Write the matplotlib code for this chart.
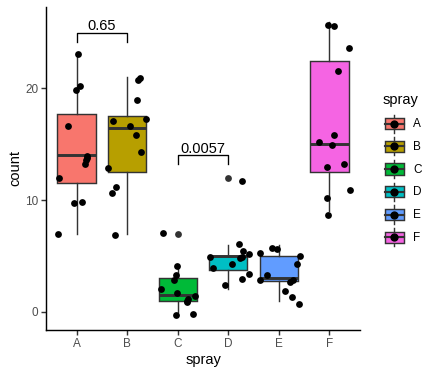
import matplotlib
matplotlib.use("Agg")
import matplotlib.pyplot as plt
from matplotlib.legend_handler import HandlerBase
from matplotlib.patches import Rectangle
from matplotlib.lines import Line2D

plt.rcParams['font.family'] = ['Liberation Sans', 'DejaVu Sans']

# InsectSprays counts (box statistics)
sprays = ['A', 'B', 'C', 'D', 'E', 'F']
counts = {
    'A': [10, 7, 20, 14, 14, 12, 10, 23, 17, 20, 14, 13],
    'B': [11, 17, 21, 11, 16, 14, 17, 17, 19, 21, 7, 13],
    'C': [0, 1, 7, 2, 3, 1, 2, 1, 3, 0, 1, 4],
    'D': [3, 5, 12, 6, 4, 3, 5, 5, 5, 5, 2, 4],
    'E': [3, 5, 3, 5, 3, 6, 1, 1, 3, 2, 6, 4],
    'F': [11, 9, 15, 22, 15, 16, 13, 10, 26, 26, 24, 13],
}
colors = ['#F8766D', '#B79F00', '#00BA38', '#00BFC4', '#619CFF', '#F564E3']

# jittered points as they appear (x position, count)
jit_x = {
    'A': [0.636, 1.020, 0.992, 1.071, 0.822, 1.204, 1.190, 1.170, 1.196, 0.656, 0.952, 1.099],
    'B': [2.247, 2.223, 2.200, 1.713, 2.378, 2.061, 2.180, 2.279, 1.625, 1.784, 1.705, 1.764],
    'C': [2.714, 2.991, 2.971, 2.932, 2.663, 2.991, 3.348, 3.197, 3.177, 2.971, 3.308, 3.190],
    'D': [4.278, 4.212, 4.297, 4.416, 3.644, 4.226, 4.266, 4.080, 3.704, 4.416, 4.278, 3.942],
    'E': [4.872, 4.971, 4.634, 5.426, 5.367, 4.773, 4.634, 5.287, 5.228, 5.129, 5.268, 5.406],
    'F': [5.980, 6.099, 6.396, 6.178, 6.099, 5.802, 6.059, 5.960, 6.297, 6.416, 5.960, 5.980],
}
jit_y = {
    'A': [6.93, 23.13, 19.90, 20.18, 16.60, 13.94, 13.58, 13.20, 13.75, 11.94, 9.70, 9.79],
    'B': [20.95, 20.80, 18.93, 17.13, 17.30, 16.60, 15.80, 14.27, 12.84, 11.14, 10.60, 6.84],
    'C': [7.02, 4.06, 3.26, 2.81, 2.00, 1.65, 1.41, 1.11, 0.87, -0.32, -0.23, 0.95],
    'D': [11.67, 6.03, 5.41, 5.14, 4.87, 4.84, 4.87, 4.24, 3.88, 3.35, 2.90, 2.36],
    'E': [5.67, 5.59, 5.23, 4.96, 4.24, 3.26, 2.81, 2.81, 2.69, 1.83, 1.29, 0.66],
    'F': [25.73, 25.64, 23.67, 21.60, 15.79, 15.16, 14.90, 13.00, 13.20, 10.87, 10.15, 8.63],
}

# pairwise comparisons: (group1, group2, label, bracket height)
comparisons = [(1, 2, '0.65', 25.0), (3, 4, '0.0057', 14.0)]

grey20 = '#333333'

fig = plt.figure(figsize=(437 / 96, 375 / 96), dpi=96)
ax = fig.add_axes([46.3 / 437, 1 - 330 / 375, (359.7 - 46.3) / 437, (330 - 7) / 375])

bp = ax.boxplot([counts[s] for s in sprays], positions=range(1, 7), widths=0.76,
                patch_artist=True, showcaps=False, whis=1.5,
                medianprops=dict(color=grey20, linewidth=2.2),
                whiskerprops=dict(color=grey20, linewidth=1.07),
                boxprops=dict(edgecolor=grey20, linewidth=1.07),
                flierprops=dict(marker='o', markerfacecolor=grey20, markeredgewidth=0,
                                markersize=5.1))
for patch, c in zip(bp['boxes'], colors):
    patch.set_facecolor(c)

for s in sprays:
    ax.scatter(jit_x[s], jit_y[s], s=26, color='black', zorder=5, linewidths=0)

for g1, g2, lab, h in comparisons:
    ax.plot([g1, g1, g2, g2], [h - 0.8, h, h, h - 0.8], color='black', lw=1.0)
    ax.text((g1 + g2) / 2, h + 0.25, lab, ha='center', va='baseline', fontsize=11, color='black')

ax.set_xlim(0.4, 6.6)
ax.set_ylim(-1.64, 27.3)
ax.set_xticks(range(1, 7))
ax.set_xticklabels(sprays)
ax.set_yticks([0, 10, 20])
ax.spines['top'].set_visible(False)
ax.spines['right'].set_visible(False)
for sp in ['left', 'bottom']:
    ax.spines[sp].set_linewidth(1.07)
ax.tick_params(axis='both', length=4, width=1.07, color=grey20, labelcolor='#4D4D4D',
               labelsize=8.8, pad=2)
ax.set_xlabel('spray', fontsize=11, labelpad=2)
ax.set_ylabel('count', fontsize=11, labelpad=2)


class BoxKey(HandlerBase):
    def create_artists(self, legend, orig_handle, xdescent, ydescent, width, height,
                       fontsize, trans):
        x0, y0 = -xdescent, -ydescent
        cx, cy = x0 + width / 2, y0 + height / 2
        whisk = Line2D([cx, cx], [y0 + 0.1 * height, y0 + 0.9 * height], color=grey20, lw=1.07,
                       transform=trans)
        box = Rectangle((x0 + 0.1 * width, y0 + 0.25 * height), 0.8 * width, 0.5 * height,
                        facecolor=orig_handle.get_facecolor(), edgecolor=grey20, lw=1.07,
                        transform=trans)
        med = Line2D([x0 + 0.1 * width, x0 + 0.9 * width], [cy, cy], color=grey20, lw=1.6,
                     transform=trans)
        dot = Line2D([cx], [cy], marker='o', color='black', markersize=5.2, lw=0,
                     transform=trans)
        return [whisk, box, med, dot]


handles = [Rectangle((0, 0), 1, 1, facecolor=c) for c in colors]
leg = fig.legend(handles, sprays, title='spray', loc='upper left',
                 bbox_to_anchor=(383 / 437, 1 - 93 / 375), frameon=False,
                 fontsize=8.8, title_fontsize=11, alignment='left',
                 handlelength=1.96, handleheight=2.6, labelspacing=0,
                 handletextpad=0.6, borderpad=0, borderaxespad=0,
                 handler_map={Rectangle: BoxKey()})
leg._legend_box.sep = 4

fig.savefig('out.png', dpi=96)
